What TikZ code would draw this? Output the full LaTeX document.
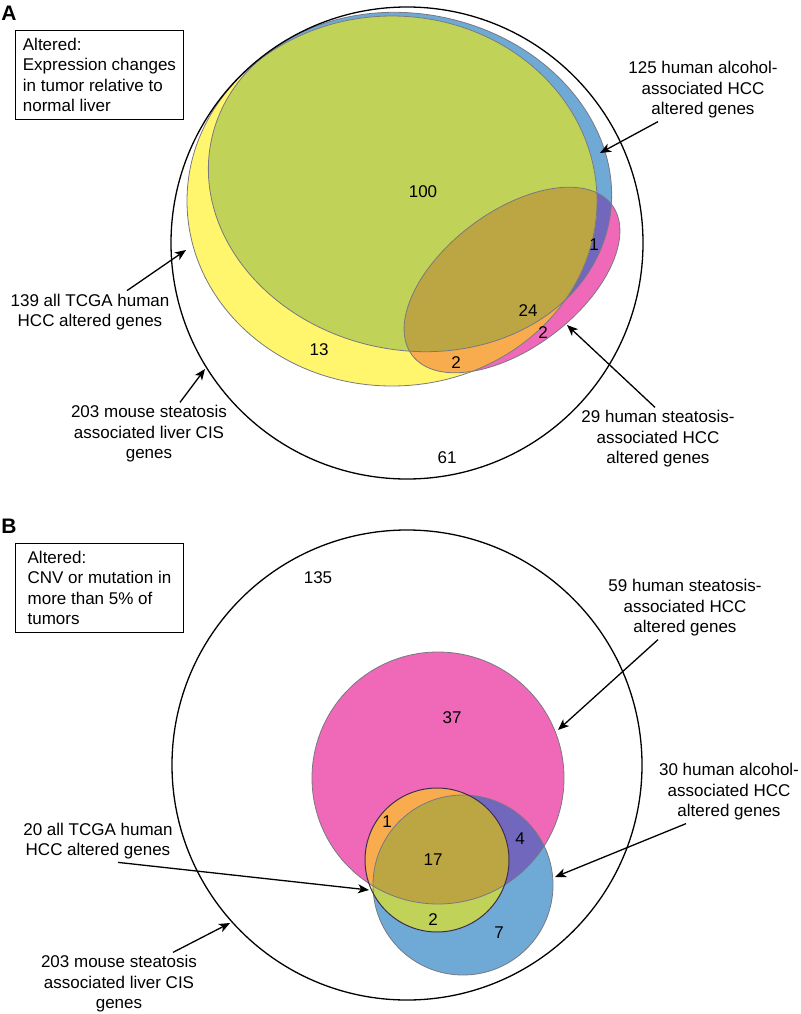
\documentclass[tikz,border=0pt]{standalone}
\usepackage{fontspec}
\setmainfont{Liberation Sans}
\usepackage{xcolor}
\usetikzlibrary{arrows.meta}

\definecolor{vyellow}{RGB}{255,246,110}
\definecolor{vblue}{RGB}{111,170,214}
\definecolor{vpink}{RGB}{240,105,185}
\definecolor{vgreen}{RGB}{192,210,88}
\definecolor{vpurple}{RGB}{113,104,190}
\definecolor{vorange}{RGB}{248,172,78}
\definecolor{volive}{RGB}{188,166,68}
\definecolor{vedge}{RGB}{120,120,128}
\definecolor{vdark}{RGB}{60,45,80}

\newcommand{\yelA}{(392,201) ellipse [x radius=205pt, y radius=185pt]}
\newcommand{\bluA}{[rotate around={-12:(410,182)}] (410,182) ellipse [x radius=203pt, y radius=168pt]}
\newcommand{\pnkA}{[rotate around={37:(512,280)}] (512,280) ellipse [x radius=125pt, y radius=68pt]}
\newcommand{\yelB}{(437,860) circle [radius=72pt]}
\newcommand{\bluB}{(463,885) circle [radius=90pt]}
\newcommand{\pnkB}{(438,778) circle [radius=126pt]}

\newcommand{\vennfill}[3]{%
	\fill[vpink] #3; \fill[vblue] #2; \fill[vyellow] #1;
	\begin{scope} \clip #3; \fill[vpurple] #2; \end{scope}
	\begin{scope} \clip #3; \fill[vorange] #1; \end{scope}
	\begin{scope} \clip #2; \fill[vgreen] #1; \end{scope}
	\begin{scope} \clip #3; \clip #2; \fill[volive] #1; \end{scope}}

\tikzset{
	lbl/.style={align=center, inner sep=3pt, font=\fontsize{17}{20.5}\selectfont},
	num/.style={inner sep=0pt, font=\fontsize{17}{20.5}\selectfont},
	panel/.style={inner sep=0pt, font=\fontsize{21}{24}\selectfont\bfseries},
	infobox/.style={draw, line width=0.9pt, align=left, inner xsep=7pt, minimum width=168pt, minimum height=89pt, font=\fontsize{17}{20.5}\selectfont},
	callout/.style={-{Stealth[length=11pt, width=9pt, inset=3pt]}, line width=1.3pt},
	outline/.style={vedge, line width=0.8pt}
}

\begin{document}
\begin{tikzpicture}[x=1pt, y=-1pt]
	\useasboundingbox (0,0) rectangle (800,1014);

	% panel A
	\vennfill{\yelA}{\bluA}{\pnkA}
	\draw[outline] \yelA;
	\draw[outline] \bluA;
	\draw[outline] \pnkA;
	\draw[line width=1.3pt] (407,243) circle [radius=236pt];

	\node[panel] (pA) at (9,13) {A};
	\node[infobox, anchor=north west] (boxA) at (15,30) {Altered:\\Expression changes\\in tumor relative to\\normal liver};

	\node[num] (a100) at (423,192) {100};
	\node[num] (a1) at (594,245) {1};
	\node[num] (a24) at (528,311) {24};
	\node[num] (a2p) at (543,333) {2};
	\node[num] (a2o) at (456,363) {2};
	\node[num] (a13) at (319,350) {13};
	\node[num] (a61) at (447,458) {61};

	\node[lbl] (lab125) at (703,90) {125 human alcohol-\\associated HCC\\altered genes};
	\node[lbl] (lab139) at (90,312) {139 all TCGA human\\HCC altered genes};
	\node[lbl] (labA203) at (149,434) {203 mouse steatosis\\associated liver CIS\\genes};
	\node[lbl] (lab29) at (658,439) {29 human steatosis-\\associated HCC\\altered genes};

	\coordinate (e125) at (600,153);
	\coordinate (e139) at (186,250);
	\coordinate (eA203) at (205,369);
	\coordinate (e29) at (567,325);
	\draw[callout] ([xshift=-45pt]lab125.south) -- (e125);
	\draw[callout] ([xshift=37pt]lab139.north) -- (e139);
	\draw[callout] ([xshift=31pt]labA203.north) -- (eA203);
	\draw[callout] ([xshift=-3pt]lab29.north) -- (e29);

	% panel B
	\vennfill{\yelB}{\bluB}{\pnkB}
	\draw[outline] \pnkB;
	\draw[outline] \bluB;
	\draw[vdark, line width=1pt] \yelB;
	\draw[line width=1.3pt] (407,765) circle [radius=235pt];

	\node[panel] (pB) at (9,526) {B};
	\node[infobox, anchor=north west] (boxB) at (15,543) {Altered:\\CNV or mutation in\\more than 5\% of\\tumors};

	\node[num] (b135) at (318,578) {135};
	\node[num] (b37) at (452,718) {37};
	\node[num] (b1) at (387,822) {1};
	\node[num] (b17) at (433,860) {17};
	\node[num] (b4) at (520,839) {4};
	\node[num] (b2) at (433,920) {2};
	\node[num] (b7) at (499,933) {7};

	\node[lbl] (lab59) at (685,608) {59 human steatosis-\\associated HCC\\altered genes};
	\node[lbl] (lab30) at (729,792) {30 human alcohol-\\associated HCC\\altered genes};
	\node[lbl] (lab20) at (98,841) {20 all TCGA human\\HCC altered genes};
	\node[lbl] (labB203) at (119,984) {203 mouse steatosis\\associated liver CIS\\genes};

	\coordinate (e59) at (558,730);
	\coordinate (e30) at (555,877);
	\coordinate (e20) at (369,890);
	\coordinate (eB203) at (230,923);
	\draw[callout] ([xshift=-27pt]lab59.south) -- (e59);
	\draw[callout] ([xshift=-43pt]lab30.south) -- (e30);
	\draw[callout] ([xshift=20pt]lab20.south) -- (e20);
	\draw[callout] ([xshift=54pt]labB203.north) -- (eB203);
\end{tikzpicture}
\end{document}
